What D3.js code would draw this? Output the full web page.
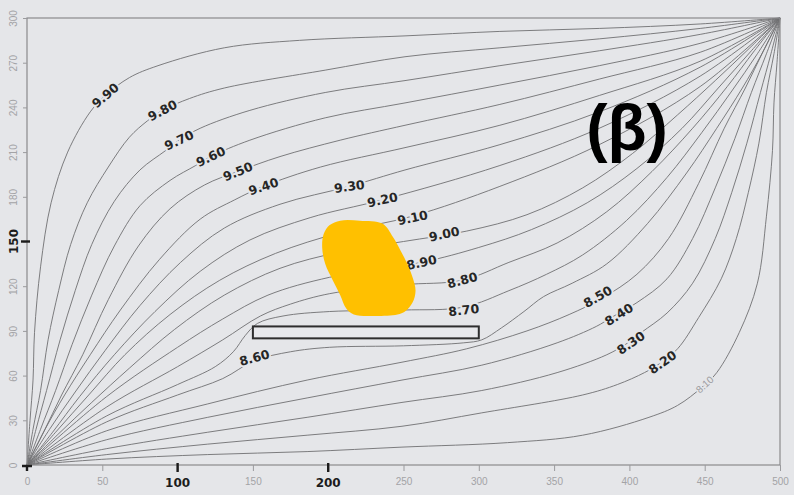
<!DOCTYPE html>
<html>
<head>
<meta charset="utf-8">
<script src="https://cdn.jsdelivr.net/npm/d3@7/dist/d3.min.js"></script>
<style>
  html, body { margin: 0; padding: 0; background: #e5e6e9; }
  svg { display: block; }
</style>
</head>
<body>
<svg id="chart" width="794" height="495"></svg>
<script>
// Hydraulic head contours (m), domain 0–500 (x) by 0–300 (y)
const xTicks = [0, 50, 100, 150, 200, 250, 300, 350, 400, 450, 500];
const yTicks = [0, 30, 60, 90, 120, 150, 180, 210, 240, 270, 300];
const xMarked = [100, 200];
const yMarked = [150];

const levels = [9.9, 9.8, 9.7, 9.6, 9.5, 9.4, 9.3, 9.2, 9.1, 9.0,
                8.9, 8.8, 8.7, 8.6, 8.5, 8.4, 8.3, 8.2, 8.1];

const path990 = [[0,0],[2,30],[4,57],[5,89],[9,133],[16,176],[27,210],[42,237],[52,248],[68,260],[87,268],[131,280],[181,285],[251,288],[314,291],[380,293],[447,296],[500,300]];
const path980 = [[0,0],[4,24],[9,50],[14,84],[21,117],[29,148],[40,176],[54,200],[68,220],[80,231],[90,238],[108,246],[131,253],[198,265],[251,274],[314,280],[380,286],[447,293],[500,300]];
const path970 = [[0,0],[6,24],[13,50],[22,84],[32,117],[43,148],[58,177],[75,198],[92,211],[101,218],[115,226],[148,238],[198,250],[251,258],[314,268],[380,278],[447,289],[500,300]];
const path960 = [[0,0],[9,24],[19,50],[30,81],[43,114],[58,147],[75,174],[95,191],[112,201],[122,207],[148,218],[198,233],[251,243],[314,255],[380,268],[447,283],[500,300]];
const path950 = [[0,0],[11,22],[23,47],[37,74],[54,111],[74,147],[95,172],[118,188],[140,197],[168,207],[208,218],[251,228],[314,242],[380,259],[447,277],[500,300]];
const path940 = [[0,0],[12,24],[25,47],[42,74],[62,104],[88,138],[115,165],[138,178],[157,187],[195,200],[251,213],[314,228],[380,248],[447,271],[500,300]];
const path930 = [[0,0],[15,24],[32,49],[52,77],[75,107],[102,136],[131,159],[168,175],[214,187],[251,198],[314,215],[380,237],[447,267],[500,300]];
const path920 = [[0,0],[17,22],[35,46],[58,74],[85,103],[115,130],[148,151],[188,166],[236,178],[314,201],[380,226],[447,261],[500,300]];
const path910 = [[0,0],[19,22],[41,47],[65,74],[95,101],[128,124],[165,142],[208,156],[256,167],[314,187],[380,215],[447,254],[500,300]];
const path900 = [[0,0],[20,20],[43,42],[68,65],[98,91],[131,114],[168,132],[208,143],[250,150],[292,157],[332,168],[369,186],[402,209],[432,235],[457,258],[480,280],[500,300]];
const path890 = [[0,0],[53,46],[100,79],[130,98],[160,114],[201,126],[262,136],[300,146],[335,158],[372,176],[405,199],[435,226],[459,253],[481,278],[500,300]];
const path880 = [[0,0],[53,39],[100,66],[130,84],[155,100],[175,108],[201,115],[250,121],[289,124],[320,136],[352,149],[385,170],[415,197],[442,226],[465,254],[483,278],[500,300]];
const path870 = [[0,0],[53,33],[100,54],[125,66],[137,76],[145,87],[153,95],[170,100],[201,103],[250,104],[290,106],[320,117],[345,128],[369,141],[398,164],[425,193],[448,223],[468,251],[485,276],[500,300]];
const path860 = [[0,0],[53,29],[100,47],[130,58],[151,70],[175,76],[201,79],[250,80],[290,82],[302,84],[315,92],[330,103],[343,113],[362,122],[385,135],[412,162],[438,196],[458,226],[475,253],[488,276],[500,300]];
const path850 = [[0,0],[53,23],[120,41],[186,57],[249,69],[292,78],[332,90],[360,101],[382,112],[405,128],[426,152],[446,189],[463,226],[477,253],[489,278],[500,300]];
const path840 = [[0,0],[53,17],[120,32],[186,45],[249,57],[302,67],[352,82],[378,93],[388,99],[405,109],[425,125],[442,152],[457,186],[470,219],[481,250],[491,276],[500,300]];
const path830 = [[0,0],[53,11],[120,22],[186,32],[249,42],[302,50],[352,62],[385,74],[399,82],[408,89],[425,102],[442,122],[457,152],[468,183],[478,216],[487,250],[494,276],[500,300]];
const path820 = [[0,0],[53,7],[120,14],[186,20],[249,26],[302,35],[369,47],[392,54],[410,62],[420,68],[432,78],[446,99],[461,125],[471,152],[479,183],[486,216],[491,250],[496,276],[500,300]];
const path810 = [[0,0],[53,4],[120,7],[186,9],[249,12],[319,15],[369,20],[413,32],[432,40],[448,52],[458,62],[473,89],[485,122],[491,167],[495,211],[496,243],[498,270],[500,300]];

// Contour labels: [text, x, y, rotation in degrees]
const handLabels = [
  ["9.90", 52, 248, -40], ["9.80", 90, 238, -27], ["9.70", 101, 218, -25],
  ["9.60", 122, 207, -25], ["9.50", 140, 197, -22], ["9.40", 157, 187, -18],
  ["9.30", 214, 187, -8],  ["9.20", 236, 178, -12], ["9.10", 256, 166, -12],
  ["9.00", 277, 155, -12], ["8.90", 262, 136, -12], ["8.80", 289, 124, -15],
  ["8.70", 290, 104, -6],  ["8.60", 151, 72, -15],  ["8.50", 379, 113, -30],
  ["8.40", 393, 101, -32], ["8.30", 401, 82, -35],  ["8.20", 422, 69, -35]
];
const printedLabels = [["8.10", 450, 54, -42]];

// Low-permeability sheet (x from, x to, y from, y to)
const sheetX = [150, 300];
const sheetY = [85, 93];

// Highlighted zone outline
const zoneOutline = [[208,164],[221,164],[236,162],[243,153],[248,144],[252,136],[256,126],[258,117],[256,109],[251,103],[246,101],[231,100],[217,101],[212,105],[208,114],[203,124],[198,135],[196,146],[197,155],[201,161]];

const contourPaths = [path990, path980, path970, path960, path950, path940, path930, path920, path910, path900,
                      path890, path880, path870, path860, path850, path840, path830, path820, path810];

const svg = d3.select("#chart");
const x = d3.scaleLinear().domain([0, 500]).range([27, 780]);
const y = d3.scaleLinear().domain([0, 300]).range([465, 18]);

const line = d3.line().x(d => x(d[0])).y(d => y(d[1])).curve(d3.curveCatmullRom.alpha(0.5));

// contour lines
svg.append("g").selectAll("path")
  .data(contourPaths.map((p, i) => ({ level: levels[i], pts: p })))
  .join("path")
  .attr("d", d => line(d.pts))
  .attr("fill", "none")
  .attr("stroke", "#6f6f72")
  .attr("stroke-width", 0.9);

// frame
svg.append("rect")
  .attr("x", x(0)).attr("y", y(300))
  .attr("width", x(500) - x(0)).attr("height", y(0) - y(300))
  .attr("fill", "none").attr("stroke", "#8a8a8d").attr("stroke-width", 1.2);

// x axis
const gx = svg.append("g").attr("transform", `translate(0,${y(0)})`)
  .call(d3.axisBottom(x).tickValues(xTicks).tickSize(6).tickPadding(7)
    .tickFormat(d => xMarked.includes(d) ? "" : d));
gx.select(".domain").remove();
gx.selectAll("line").attr("stroke", "#9a9a9d");
gx.selectAll("text").attr("fill", "#a3a3a6").style("font", "10px 'Liberation Sans', Arial, sans-serif");

// y axis (labels turned vertical)
const gy = svg.append("g").attr("transform", `translate(${x(0)},0)`)
  .call(d3.axisLeft(y).tickValues(yTicks).tickSize(4)
    .tickFormat(d => yMarked.includes(d) ? "" : d));
gy.select(".domain").remove();
gy.selectAll("line").attr("stroke", "#9a9a9d");
gy.selectAll("text")
  .attr("transform", "rotate(-90)")
  .attr("x", 0).attr("y", -14).attr("dy", "0.35em")
  .attr("text-anchor", "middle")
  .attr("fill", "#a3a3a6").style("font", "10px 'Liberation Sans', Arial, sans-serif");

// hand-marked ticks
const ink = "#1c1c1c";
xMarked.forEach(v => {
  svg.append("line").attr("x1", x(v)).attr("x2", x(v)).attr("y1", y(0) - 2).attr("y2", y(0) + 7)
    .attr("stroke", ink).attr("stroke-width", 2.4);
  svg.append("text").attr("x", x(v)).attr("y", y(0) + 22).attr("text-anchor", "middle")
    .attr("fill", ink).style("font", "bold 12px 'DejaVu Sans', sans-serif").text(v);
});
yMarked.forEach(v => {
  svg.append("line").attr("x1", x(0) - 6).attr("x2", x(0) + 3).attr("y1", y(v)).attr("y2", y(v))
    .attr("stroke", ink).attr("stroke-width", 2.4);
  svg.append("text").attr("transform", `translate(${x(0) - 13},${y(v)}) rotate(-90)`)
    .attr("text-anchor", "middle").attr("dy", "0.35em")
    .attr("fill", ink).style("font", "bold 12px 'DejaVu Sans', sans-serif").text(v);
});
svg.append("path")
  .attr("d", `M${x(0) - 5},${y(0) + 1}H${x(0) + 5}M${x(0)},${y(0) + 1}V${y(0) + 6}`)
  .attr("stroke", ink).attr("stroke-width", 2.4).attr("fill", "none");

// sheet
svg.append("rect")
  .attr("x", x(sheetX[0])).attr("y", y(sheetY[1]))
  .attr("width", x(sheetX[1]) - x(sheetX[0])).attr("height", y(sheetY[0]) - y(sheetY[1]))
  .attr("fill", "#e8e9ec").attr("stroke", "#2e2e2e").attr("stroke-width", 2);

// contour labels
const lab = svg.append("g");
lab.selectAll("text.hand").data(handLabels).join("text")
  .attr("class", "hand")
  .attr("transform", d => `translate(${x(d[1])},${y(d[2])}) rotate(${d[3]})`)
  .attr("text-anchor", "middle").attr("dy", "0.36em")
  .attr("fill", "#262626")
  .attr("stroke", "#e5e6e9").attr("stroke-width", 4).attr("paint-order", "stroke")
  .style("font", "bold 12.5px 'DejaVu Sans', sans-serif")
  .text(d => d[0]);
lab.selectAll("text.printed").data(printedLabels).join("text")
  .attr("class", "printed")
  .attr("transform", d => `translate(${x(d[1])},${y(d[2])}) rotate(${d[3]})`)
  .attr("text-anchor", "middle").attr("dy", "0.35em")
  .attr("fill", "#9a9a9d")
  .attr("stroke", "#e5e6e9").attr("stroke-width", 3).attr("paint-order", "stroke")
  .style("font", "10px 'Liberation Sans', Arial, sans-serif")
  .text(d => d[0]);

// highlighted zone
svg.append("path")
  .attr("d", d3.line().x(d => x(d[0])).y(d => y(d[1])).curve(d3.curveCatmullRomClosed)(zoneOutline))
  .attr("fill", "#ffc000");

// panel tag
svg.append("text").attr("x", 627).attr("y", 150).attr("text-anchor", "middle")
  .attr("fill", "#000").style("font", "bold 64px 'Liberation Sans', Arial, sans-serif")
  .text("(β)");
</script>
</body>
</html>
